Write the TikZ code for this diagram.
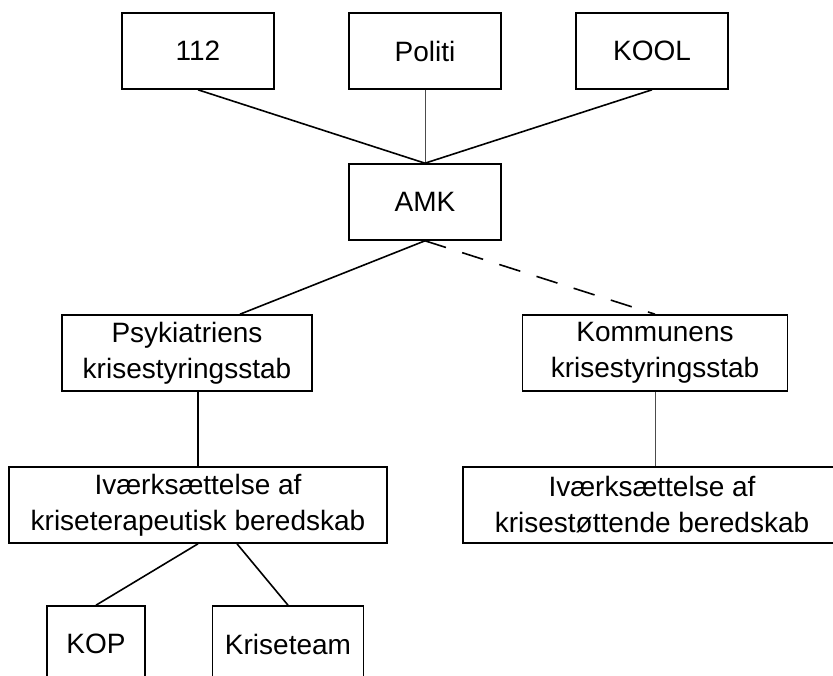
\documentclass[tikz,border=0pt]{standalone}
\usepackage{fontspec}
\setmainfont{Liberation Sans}

\begin{document}
\begin{tikzpicture}[x=1pt, y=-1pt,
    box/.style={draw, line width=1.6pt, inner sep=0pt, align=center,
        minimum height=76pt, font=\fontsize{28}{36}\selectfont},
    link/.style={line width=1.6pt},
    thin/.style={line width=0.9pt, color=black!70}]
    \useasboundingbox (0,0) rectangle (833,676);
    \node [box, minimum width=152pt] (n112) at (198,51) {112};
    \node [box, minimum width=152pt] (politi) at (425,51) {Politi};
    \node [box, minimum width=152pt] (kool) at (652,51) {KOOL};
    \node [box, minimum width=152pt] (amk) at (425,202) {AMK};
    \node [box, minimum width=250pt] (psyk) at (187,353) {Psykiatriens\\krisestyringsstab};
    \node [box, minimum width=265pt] (komm) at (655,353) {Kommunens\\krisestyringsstab};
    \node [box, minimum width=378pt] (terap) at (198,505) {Iværksættelse af\\kriseterapeutisk beredskab};
    \node [box, minimum width=378pt] (stoet) at (652,505) {Iværksættelse af\\krisestøttende beredskab};
    \node [box, minimum width=98pt] (kop) at (96,644) {KOP};
    \node [box, minimum width=151pt] (team) at (288,644) {Kriseteam};
    \draw [link] (n112.south) -- (amk.north);
    \draw [thin] (politi.south) -- (amk.north);
    \draw [link] (kool.south) -- (amk.north);
    \draw [link] (amk.south) -- ([xshift=53pt]psyk.north);
    \draw [link, dash pattern=on 22pt off 17pt] (amk.south) -- (komm.north);
    \draw [link] (terap.north |- psyk.south) -- (terap.north);
    \draw [thin] (komm.south) -- (komm.south |- stoet.north);
    \draw [link] (terap.south) -- (kop.north);
    \draw [link] ([xshift=39pt]terap.south) -- (team.north);
\end{tikzpicture}
\end{document}
